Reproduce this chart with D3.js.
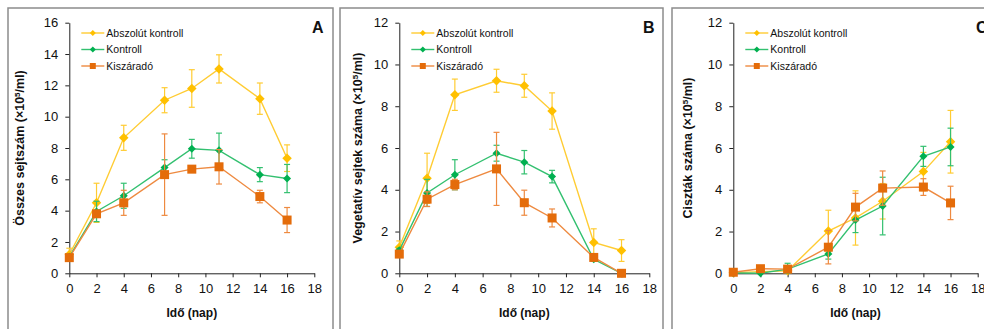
<!DOCTYPE html>
<html>
<head>
<meta charset="utf-8">
<script src="https://cdn.jsdelivr.net/npm/d3@7"></script>
<style>
  body { margin: 0; background: #fff; }
  svg { font-family: "Liberation Sans", Arial, sans-serif; }
</style>
</head>
<body>
<div id="chart"></div>
<script>
// days of sampling
var days = [0, 2, 4, 7, 9, 11, 14, 16];
var xTicks = [0, 2, 4, 6, 8, 10, 12, 14, 16, 18];
var seriesNames = ["Abszolút kontroll", "Kontroll", "Kiszáradó"];

// A - total cell count
var totalAbs = [1.2, 4.5, 8.65, 11.05, 11.8, 13.05, 11.15, 7.35];
var totalAbsErr = [0.4, 1.25, 0.8, 0.8, 1.2, 0.9, 1.0, 0.85];
var totalKon = [1.05, 3.95, 4.95, 6.75, 7.95, 7.85, 6.3, 6.05];
var totalKonErr = [0.15, 0.65, 0.8, 0.5, 0.6, 1.1, 0.45, 0.9];
var totalKis = [1.0, 3.8, 4.5, 6.3, 6.65, 6.8, 4.9, 3.4];
var totalKisErr = [0.15, 0.2, 0.8, 2.6, 0.1, 1.1, 0.4, 0.8];

// B - vegetative cells
var vegAbs = [1.25, 4.55, 8.55, 9.22, 8.98, 7.77, 1.48, 1.09];
var vegAbsErr = [0.3, 1.2, 0.75, 0.55, 0.55, 0.87, 0.65, 0.52];
var vegKon = [1.1, 3.85, 4.72, 5.75, 5.32, 4.63, 0.67, 0];
var vegKonErr = [0.1, 0.65, 0.72, 0.38, 0.56, 0.3, 0.1, 0];
var vegKis = [0.92, 3.55, 4.25, 5.0, 3.38, 2.65, 0.76, 0];
var vegKisErr = [0.1, 0.35, 0.25, 1.75, 0.6, 0.43, 0.1, 0];

// C - cysts
var cystAbs = [0.03, 0.08, 0.12, 2.02, 2.65, 3.45, 4.87, 6.3];
var cystAbsErr = [0.02, 0.05, 0.1, 1.0, 1.3, 0.85, 0.92, 1.5];
var cystKon = [0.02, 0.0, 0.2, 0.93, 2.55, 3.22, 5.6, 6.05];
var cystKonErr = [0.02, 0.02, 0.28, 0.25, 0.6, 1.38, 0.48, 0.9];
var cystKis = [0.05, 0.22, 0.2, 1.25, 3.17, 4.08, 4.13, 3.37];
var cystKisErr = [0.02, 0.05, 0.08, 0.8, 0.66, 0.82, 0.4, 0.8];

var colors = ["#FFC000", "#00B050", "#E46C0A"];
var lineColors = ["#FFCC33", "#33C070", "#EE8A40"];

var panels = [
  {letter: "A", frame: [8, 8, 325], x0: 69.3, x1: 314.3, yMax: 16, titleX: 20,
   title: "Összes sejtszám (×10", vals: [totalAbs, totalKon, totalKis], errs: [totalAbsErr, totalKonErr, totalKisErr], letterX: 312},
  {letter: "B", frame: [340, 8, 323], x0: 399.3, x1: 649.3, yMax: 12, titleX: 358,
   title: "Vegetatív sejtek  száma (×10", vals: [vegAbs, vegKon, vegKis], errs: [vegAbsErr, vegKonErr, vegKisErr], letterX: 643},
  {letter: "C", frame: [672, 8, 330], x0: 733.3, x1: 977.7, yMax: 12, titleX: 688,
   title: "Ciszták száma (×10", vals: [cystAbs, cystKon, cystKis], errs: [cystAbsErr, cystKonErr, cystKisErr], letterX: 976}
];

var svg = d3.select("#chart").append("svg")
  .attr("width", 984)
  .attr("height", 329);

var yTop = 22.7, yBottom = 273.3;

function marker(g, i, cx, cy, s) {
  if (i == 2) {
    g.append("rect")
      .attr("x", cx - s / 2).attr("y", cy - s / 2)
      .attr("width", s).attr("height", s)
      .attr("fill", colors[i]);
  } else {
    var h = s / 2 + 0.5;
    g.append("path")
      .attr("d", "M" + cx + "," + (cy - h) + "L" + (cx + h) + "," + cy + "L" + cx + "," + (cy + h) + "L" + (cx - h) + "," + cy + "Z")
      .attr("fill", colors[i]);
  }
}

panels.forEach(function(p) {
  // panel frame
  svg.append("rect")
    .attr("x", p.frame[0]).attr("y", p.frame[1])
    .attr("width", p.frame[2]).attr("height", 340)
    .attr("fill", "none")
    .attr("stroke", "#8c8c8c")
    .attr("stroke-width", 1.5);

  var x = d3.scaleLinear().domain([0, 18]).range([p.x0, p.x1]);
  var y = d3.scaleLinear().domain([0, p.yMax]).range([yBottom, yTop]);

  var xAxis = svg.append("g")
    .attr("transform", "translate(0," + yBottom + ")")
    .call(d3.axisBottom(x).tickValues(xTicks).tickSize(4).tickSizeOuter(0).tickPadding(6));
  var yAxis = svg.append("g")
    .attr("transform", "translate(" + p.x0 + ",0)")
    .call(d3.axisLeft(y).ticks(p.yMax / 2).tickSize(4).tickSizeOuter(0).tickPadding(7));

  [xAxis, yAxis].forEach(function(a) {
    a.select(".domain").attr("stroke", "#222");
    a.selectAll(".tick line").attr("stroke", "#222");
    a.selectAll(".tick text")
      .attr("fill", "#111")
      .style("font-size", "13px")
      .style("font-family", "Liberation Sans, Arial, sans-serif");
  });

  // series, drawn bottom to top
  p.vals.forEach(function(vals, i) {
    var g = svg.append("g");
    var errs = p.errs[i];
    days.forEach(function(d, k) {
      if (errs[k] <= 0) return;
      var cx = x(d);
      var t = y(vals[k] + errs[k]), b = y(Math.max(0, vals[k] - errs[k]));
      g.append("line").attr("x1", cx).attr("x2", cx).attr("y1", t).attr("y2", b)
        .attr("stroke", lineColors[i]).attr("stroke-width", 1.2);
      [t, b].forEach(function(yy) {
        g.append("line").attr("x1", cx - 3).attr("x2", cx + 3).attr("y1", yy).attr("y2", yy)
          .attr("stroke", lineColors[i]).attr("stroke-width", 1.2);
      });
    });
    var line = d3.line().x(function(d, k) { return x(days[k]); }).y(function(d) { return y(d); });
    g.append("path")
      .datum(vals)
      .attr("d", line)
      .attr("fill", "none")
      .attr("stroke", lineColors[i])
      .attr("stroke-width", 1.4);
    var size = i == 2 ? 9 : (i == 0 ? 8.5 : 7);
    vals.forEach(function(v, k) { marker(g, i, x(days[k]), y(v), size); });
  });

  // legend
  seriesNames.forEach(function(name, i) {
    var ly = 33 + i * 16.5;
    var lx = p.x0 + 12;
    var g = svg.append("g");
    g.append("line").attr("x1", lx).attr("x2", lx + 23).attr("y1", ly).attr("y2", ly)
      .attr("stroke", lineColors[i]).attr("stroke-width", 1.4);
    marker(g, i, lx + 11.5, ly, i == 2 ? 6 : 5);
    g.append("text")
      .attr("x", lx + 25).attr("y", ly + 3.8)
      .style("font-size", "10.5px")
      .attr("fill", "#111")
      .text(name);
  });

  // axis titles
  svg.append("text")
    .attr("x", (p.x0 + p.x1) / 2).attr("y", 317)
    .attr("text-anchor", "middle")
    .style("font-size", "12px").style("font-weight", "bold")
    .attr("fill", "#111")
    .text("Idő (nap)");

  var yt = svg.append("text")
    .attr("transform", "translate(" + (p.titleX + 4) + "," + ((yTop + yBottom) / 2) + ") rotate(-90)")
    .attr("text-anchor", "middle")
    .style("font-size", "12.5px").style("font-weight", "bold")
    .attr("fill", "#111");
  yt.append("tspan").text(p.title);
  yt.append("tspan").attr("dy", -4).style("font-size", "8px").text("5");
  yt.append("tspan").attr("dy", 4).text("/ml)");

  svg.append("text")
    .attr("x", p.letterX).attr("y", 33)
    .style("font-size", "16px").style("font-weight", "bold")
    .attr("fill", "#111")
    .text(p.letter);
});
</script>
</body>
</html>
